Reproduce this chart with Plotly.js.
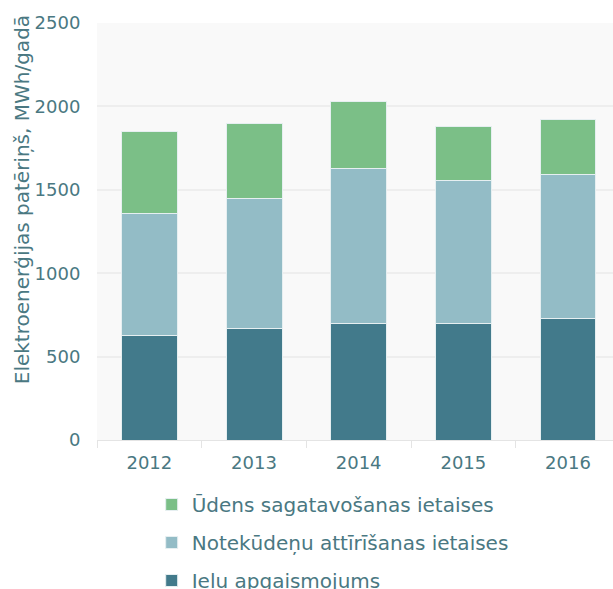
<!DOCTYPE html>
<html>
<head>
<meta charset="utf-8">
<script src="https://cdn.plot.ly/plotly-3.0.1.min.js"></script>
<style>html,body{margin:0;padding:0;background:#fff;overflow:hidden;}#chart{width:613px;height:610px;}</style>
</head>
<body>
<div id="chart"></div>
<script>
const years = ['2012', '2013', '2014', '2015', '2016'];
const ieluApgaismojums = [624, 666, 698, 698, 728];
const notekudenu = [736, 779, 932, 860, 862];
const udens = [490, 455, 398, 322, 334];
const seriesNames = ['Ielu apgaismojums', 'Notekūdeņu attīrīšanas ietaises', 'Ūdens sagatavošanas ietaises'];
const legendRanks = [3, 2, 1];
const yTicks = [0, 500, 1000, 1500, 2000, 2500];

const textColor = '#4a7882';
const fontFam = '"DejaVu Sans", "Open Sans", sans-serif';
const colors = ['#427a8b', '#93bcc6', '#7bbf87'];
const seriesData = [ieluApgaismojums, notekudenu, udens];

const traces = seriesData.map((vals, i) => ({
  type: 'bar',
  x: years,
  y: vals,
  name: seriesNames[i],
  legendgroup: 'g' + i,
  legendrank: legendRanks[i],
  marker: {color: colors[i], line: {color: '#e6eff1', width: 1}},
  hoverinfo: 'y+name'
}));

const H = 610;
const paperH = H - 23;

const layout = {
  width: 613,
  height: H,
  margin: {l: 97, r: 0, t: 23, b: 0},
  barmode: 'stack',
  bargap: 0.465,
  paper_bgcolor: '#ffffff',
  plot_bgcolor: '#f9f9f9',
  font: {family: fontFam, color: textColor, size: 18},
  xaxis: {
    type: 'category',
    range: [-0.5, 4.43],
    tickson: 'boundaries',
    ticks: 'outside',
    ticklen: 7,
    tickcolor: '#e4e4e4',
    tickwidth: 1,
    ticklabelstandoff: 6,
    showline: true,
    linecolor: '#e4e4e4',
    linewidth: 1,
    showgrid: false,
    tickfont: {size: 18, color: textColor, family: fontFam}
  },
  yaxis: {
    range: [0, 2500],
    domain: [(H - 440) / paperH, 1],
    tickvals: yTicks,
    ticktext: yTicks.map(String),
    showgrid: true,
    gridcolor: '#eeeeee',
    gridwidth: 2,
    zeroline: false,
    showline: false,
    ticks: 'outside',
    ticklen: 12,
    tickcolor: 'rgba(0,0,0,0)',
    tickfont: {size: 18, color: textColor, family: fontFam}
  },
  legend: {
    orientation: 'v',
    traceorder: 'grouped',
    tracegroupgap: 9,
    x: 0.106,
    xanchor: 'left',
    y: (H - 485) / paperH,
    yanchor: 'top',
    font: {size: 20, color: textColor, family: fontFam},
    bgcolor: 'rgba(0,0,0,0)'
  },
  annotations: [{
    text: 'Elektroenerģijas patēriņš, MWh/gadā',
    textangle: -90,
    xref: 'paper', yref: 'paper',
    x: -0.172, xanchor: 'left',
    y: (H - 200) / paperH, yanchor: 'middle',
    showarrow: false,
    font: {size: 20, color: textColor, family: fontFam}
  }],
  showlegend: true
};

Plotly.newPlot('chart', traces, layout, {displayModeBar: false, staticPlot: true});
</script>
</body>
</html>
